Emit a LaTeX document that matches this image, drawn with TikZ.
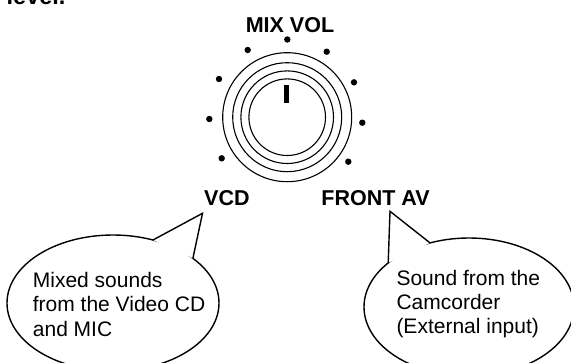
\documentclass[tikz,border=0pt]{standalone}
\usepackage{fontspec}
\setmainfont{Liberation Sans}
\usetikzlibrary{calc,intersections}
\tikzset{
  lbl/.style={inner sep=0pt, font=\fontsize{21.5}{24}\selectfont\bfseries},
  body/.style={inner sep=0pt, anchor=base west, font=\fontsize{21}{24}\selectfont},
  ring/.style={draw=black, line width=1.1pt},
  callout/.style={draw=black, line width=1.4pt, line join=miter},
  tick/.style={fill=black},
}
\begin{document}
\begin{tikzpicture}[x=1pt,y=-1pt]
\useasboundingbox (0,0) rectangle (571,362);
\clip (0,0) rectangle (571,362);

% heading fragment at top
\node[lbl, anchor=base west, font=\fontsize{23.5}{26}\selectfont\bfseries] (lev) at (6.5,4) {level.};

% knob
\coordinate (K) at (287.2,117.2);
\draw[ring] (K) circle [radius=64.5];
\draw[ring] (K) circle [radius=54.5];
\draw[ring] (K) circle [radius=46.3];
\draw[ring] (K) circle [radius=38.3];
\fill (284.4,85) rectangle (289.3,102.7);

% scale dots
\foreach \p in {(287.3,39.5),(247.7,50),(326.7,51.7),(219,79),(354,82.3),(209.3,119),(362.3,122.7),(221.7,158.3),(348.3,161.7)}
  \fill[tick] \p circle [radius=3.2];

% labels
\node[lbl, anchor=base] (mix) at (290,32.5) {MIX VOL};
\node[lbl, anchor=base west] (vcd) at (204,205) {VCD};
\node[lbl, anchor=base west] (fav) at (321.2,205) {FRONT AV};

% left callout
\coordinate (cL) at (113,303);
\path[name path=ellL] (cL) ellipse [x radius=106, y radius=68];
\coordinate (tipL) at (202.5,213.3);
\coordinate (bLa) at (151.7,240.7);
\coordinate (bLb) at (192.7,259.3);
\path[name path=rayLa] (tipL) -- ($(tipL)!1.3!(bLa)$);
\path[name path=rayLb] (tipL) -- ($(tipL)!1.3!(bLb)$);
\path[name intersections={of=rayLa and ellL, by={jLa}, sort by=rayLa}];
\path[name intersections={of=rayLb and ellL, by={jLb}, sort by=rayLb}];
\draw[callout] (cL) ellipse [x radius=106, y radius=68];
\fill[white] (tipL) -- (jLa) -- (jLb) -- cycle;
\draw[callout] (jLa) -- (tipL) -- (jLb);

\node[body] (l1) at (32.7,287.5) {Mixed sounds};
\node[body] (l2) at (32.7,311.8) {from the Video CD};
\node[body] (l3) at (32.7,336.1) {and MIC};

% right callout
\coordinate (cR) at (469,307);
\path[name path=ellR] (cR) ellipse [x radius=105, y radius=69];
\coordinate (tipR) at (390,211.3);
\coordinate (bRa) at (388.3,260);
\coordinate (bRb) at (429.3,242.3);
\path[name path=rayRa] (tipR) -- ($(tipR)!1.3!(bRa)$);
\path[name path=rayRb] (tipR) -- ($(tipR)!1.3!(bRb)$);
\path[name intersections={of=rayRa and ellR, by={jRa}, sort by=rayRa}];
\path[name intersections={of=rayRb and ellR, by={jRb}, sort by=rayRb}];
\draw[callout] (cR) ellipse [x radius=105, y radius=69];
\fill[white] (tipR) -- (jRa) -- (jRb) -- cycle;
\draw[callout] (jRa) -- (tipR) -- (jRb);

\node[body] (r1) at (396.3,285) {Sound from the};
\node[body] (r2) at (396.3,309.2) {Camcorder};
\node[body] (r3) at (396.3,333.4) {(External input)};
\end{tikzpicture}
\end{document}
